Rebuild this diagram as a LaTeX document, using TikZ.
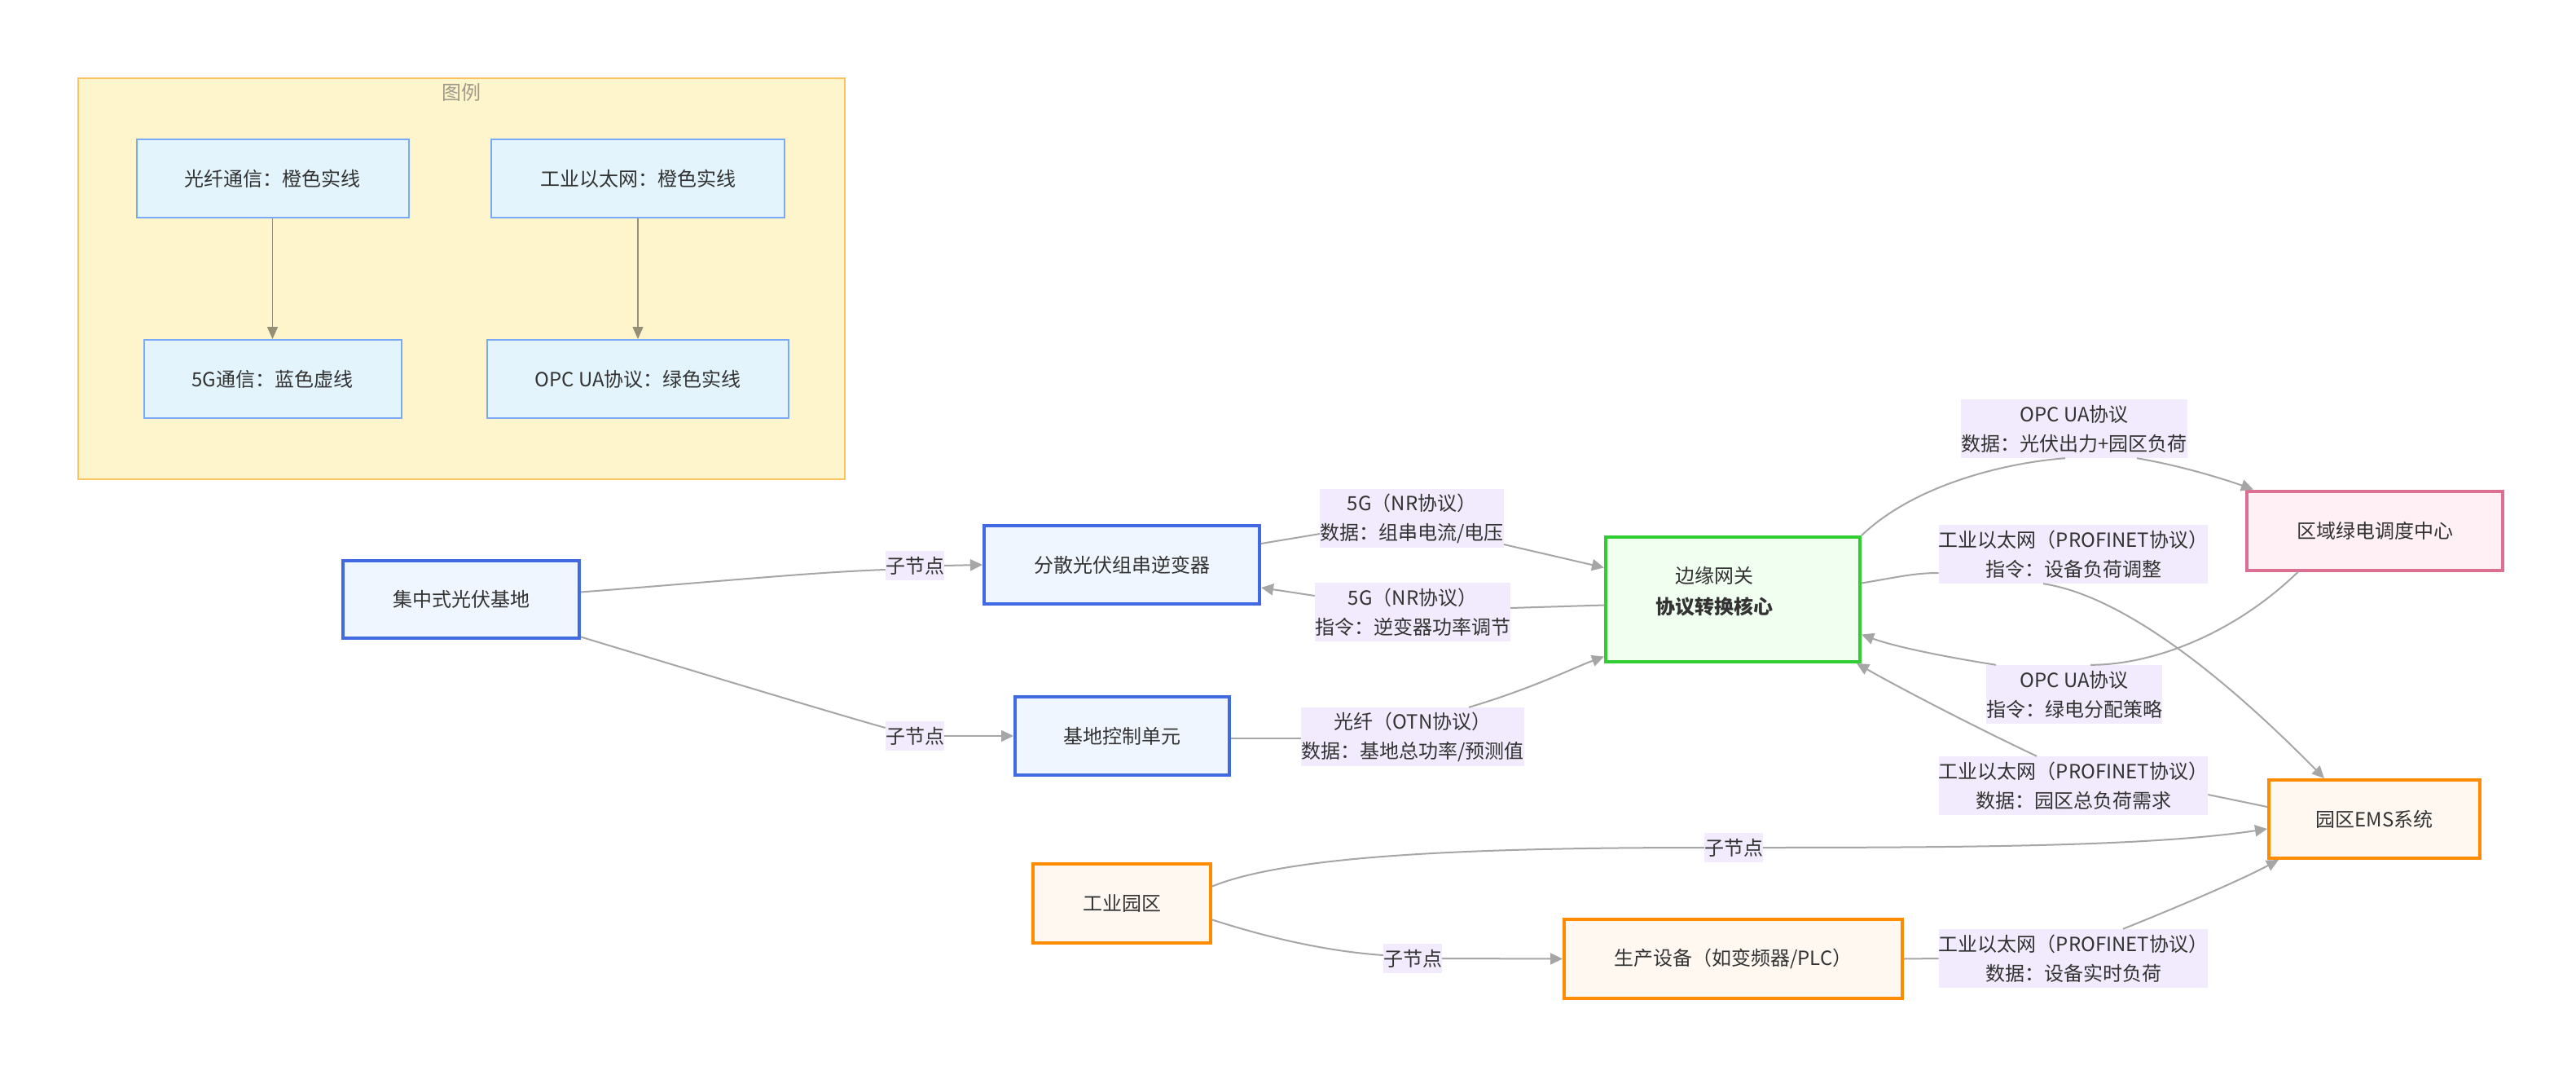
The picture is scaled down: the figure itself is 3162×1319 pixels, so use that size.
\documentclass[tikz,border=0pt]{standalone}
\usepackage{fontspec}
\newfontfamily\cjk{Noto Sans CJK SC}
\usetikzlibrary{arrows.meta,calc}
\definecolor{royal}{HTML}{4169E1}
\definecolor{bluefill}{HTML}{EFF6FF}
\definecolor{grn}{HTML}{32CD32}
\definecolor{grnfill}{HTML}{F0FFF0}
\definecolor{pnk}{HTML}{DB7093}
\definecolor{pnkfill}{HTML}{FFF0F5}
\definecolor{orng}{HTML}{FF8C00}
\definecolor{orngfill}{HTML}{FFF8F0}
\definecolor{legfill}{HTML}{E3F4FD}
\definecolor{legdraw}{HTML}{7AA9F5}
\definecolor{frmfill}{HTML}{FFF5CC}
\definecolor{frmdraw}{HTML}{F9C45E}
\definecolor{ttl}{HTML}{A09A88}
\definecolor{edgec}{HTML}{A6A6A6}
\definecolor{legedge}{HTML}{968F78}
\definecolor{lblbg}{HTML}{F2EAFD}
\definecolor{txt}{HTML}{333333}
\begin{document}
\begin{tikzpicture}[x=1pt,y=-1pt,
  base/.style={rectangle, draw, line width=4pt, inner sep=0pt, align=center, text=txt,
    font=\cjk\fontsize{24}{36}\selectfont},
  bluebox/.style={base, draw=royal, fill=bluefill},
  grnbox/.style={base, draw=grn, fill=grnfill},
  pnkbox/.style={base, draw=pnk, fill=pnkfill},
  orngbox/.style={base, draw=orng, fill=orngfill},
  legbox/.style={base, line width=2pt, draw=legdraw, fill=legfill},
  frame/.style={rectangle, draw=frmdraw, fill=frmfill, line width=2pt, inner sep=0pt},
  lbl/.style={rectangle, fill=lblbg, text=txt, align=center, inner xsep=0pt, inner ysep=0pt,
    font=\cjk\fontsize{24}{36}\selectfont},
  lbl1/.style={lbl, minimum height=36pt},
  lbl2/.style={lbl, minimum height=72pt},
  plain/.style={text=txt, align=center, inner sep=0pt, font=\cjk\fontsize{24}{38}\selectfont},
  edge/.style={draw=edgec, line width=2pt},
  arr/.style={edge, -{Triangle[length=15pt,width=14pt,fill=edgec]}},
  legarr/.style={draw=legedge, line width=1.5pt, -{Triangle[length=15pt,width=13pt,fill=legedge]}}
]
\useasboundingbox (0,0) rectangle (3162,1319);
\fill[white] (0,0) rectangle (3162,1319);

% legend
\node[frame, minimum width=941pt, minimum height=492pt] (leg) at (566.5,342) {};
\node[text=ttl, font=\cjk\fontsize{24}{30}\selectfont, inner sep=0pt] (legt) at (566,113) {图例};
\node[legbox, minimum width=334pt, minimum height=96pt] (L1) at (334.5,219) {光纤通信：橙色实线};
\node[legbox, minimum width=360pt, minimum height=96pt] (L2) at (783,219) {工业以太网：橙色实线};
\node[legbox, minimum width=316pt, minimum height=96pt] (L3) at (334.5,465) {5G通信：蓝色虚线};
\node[legbox, minimum width=370pt, minimum height=96pt] (L4) at (783,465) {OPC UA协议：绿色实线};
\draw[legarr] (L1.south) -- (L3.north);
\draw[legarr] (L2.south) -- (L4.north);

% main nodes
\node[bluebox, minimum width=290pt, minimum height=95pt] (A) at (566,735.5) {集中式光伏基地};
\node[bluebox, minimum width=338pt, minimum height=96pt] (B) at (1377,693) {分散光伏组串逆变器};
\node[bluebox, minimum width=263pt, minimum height=96pt] (C) at (1377.5,903) {基地控制单元};
\node[grnbox, minimum width=312pt, minimum height=153pt] (G) at (2127,735.5) {};
\node[plain] (Gt) at (2104,726) {边缘网关\\\textbf{协议转换核心}};
\node[pnkbox, minimum width=314pt, minimum height=97pt] (R) at (2915,651) {区域绿电调度中心};
\node[orngbox, minimum width=259pt, minimum height=96pt] (E) at (2914.5,1005) {园区EMS系统};
\node[orngbox, minimum width=218pt, minimum height=97pt] (P) at (1377,1108.5) {工业园区};
\node[orngbox, minimum width=415pt, minimum height=97pt] (D) at (2127.5,1176.5) {生产设备（如变频器/PLC）};

% edge labels
\node[lbl1] (s1) at (1123,694) {子节点};
\node[lbl1] (s2) at (1123,903) {子节点};
\node[lbl2] (L5) at (1733,636) {5G（NR协议）\\数据：组串电流/电压};
\node[lbl2] (L6) at (1734,751) {5G（NR协议）\\指令：逆变器功率调节};
\node[lbl2] (L7) at (1734,904) {光纤（OTN协议）\\数据：基地总功率/预测值};
\node[lbl2] (L8) at (2546,526) {OPC UA协议\\数据：光伏出力+园区负荷};
\node[lbl2] (L9) at (2545,680) {工业以太网（PROFINET协议）\\指令：设备负荷调整};
\node[lbl2] (L10) at (2546,852) {OPC UA协议\\指令：绿电分配策略};
\node[lbl2] (L11) at (2545,964) {工业以太网（PROFINET协议）\\数据：园区总负荷需求};
\node[lbl1] (s3) at (2128,1040) {子节点};
\node[lbl1] (s4) at (1734,1176) {子节点};
\node[lbl2] (L12) at (2545,1176) {工业以太网（PROFINET协议）\\数据：设备实时负荷};

% edges
\draw[edge] ($(A.east)+(0,-9)$) .. controls (900,712) and (1000,702) .. ($(s1.west)+(0,5)$);
\draw[arr] (s1.east) -- (B.west);

\draw[edge] ($(A.east)+(0,46)$) .. controls (900,838) and (1040,880) .. ($(s2.west)+(0,-10)$);
\draw[arr] (s2.east) -- (C.west);

\draw[edge] ($(B.east)+(0,-26)$) -- ($(L5.west)+(0,19)$);
\draw[arr] ($(L5.east)+(0,32)$) -- ($(G.west)+(0,-39)$);

\draw[edge] ($(G.west)+(0,7)$) -- ($(L6.east)+(0,-5)$);
\draw[arr] ($(L6.west)+(0,-20)$) -- ($(B.east)+(0,28)$);

\draw[edge] ($(C.east)+(0,3)$) -- ($(L7.west)+(0,2)$);
\draw[arr] ($(L7.north)+(69,0)$) .. controls (1880,845) and (1930,820) .. ($(G.west)+(0,70)$);

\draw[edge] (G.north east) .. controls (2350,595) and (2460,568) .. ($(L8.south)+(-11,0)$);
\draw[arr] ($(L8.south)+(77,0)$) .. controls (2680,572) and (2730,588) .. ($(R.north west)+(10,0)$);

\draw[edge] ($(G.east)+(0,-20)$) .. controls (2330,708) and (2350,703) .. ($(L9.west)+(0,23)$);
\draw[arr] ($(L9.south)+(-37,0)$) .. controls (2600,730) and (2720,820) .. ($(E.north west)+(70,0)$);

\draw[edge] ($(R.south west)+(65,0)$) .. controls (2740,780) and (2640,816) .. ($(L10.north)+(20,0)$);
\draw[arr] ($(L10.north)+(-96,0)$) .. controls (2400,808) and (2330,795) .. ($(G.east)+(0,43)$);

\draw[edge] ($(E.west)+(0,-15)$) -- ($(L11.east)+(0,11)$);
\draw[arr] ($(L11.north)+(-45,0)$) .. controls (2420,890) and (2330,843) .. ($(G.south east)+(-6,0)$);

\draw[edge] ($(P.east)+(0,-21)$) .. controls (1580,1050) and (1800,1040) .. (s3.west);
\draw[arr] (s3.east) .. controls (2450,1040) and (2650,1037) .. ($(E.west)+(0,12)$);

\draw[edge] ($(P.east)+(0,20)$) .. controls (1570,1155) and (1640,1168) .. ($(s4.west)+(0,-4)$);
\draw[arr] (s4.east) -- (D.west);

\draw[edge] (D.east) -- (L12.west);
\draw[arr] ($(L12.north)+(61,0)$) .. controls (2680,1110) and (2750,1080) .. ($(E.south west)+(14,0)$);
\end{tikzpicture}
\end{document}
